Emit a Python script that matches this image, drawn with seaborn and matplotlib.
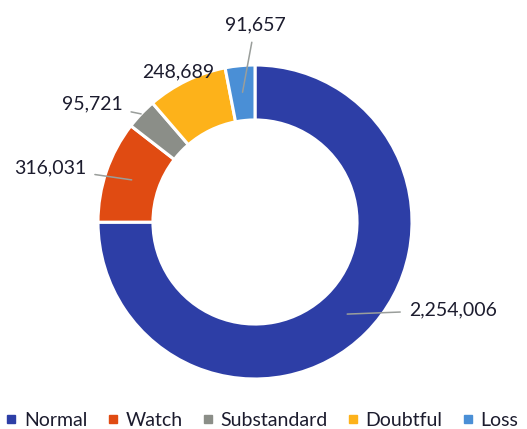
import numpy as np
import matplotlib
matplotlib.use("Agg")
import matplotlib.pyplot as plt
import seaborn as sns

# data
categories = ["Normal", "Watch", "Substandard", "Doubtful", "Loss"]
values = [2254006, 316031, 95721, 248689, 91657]
colors = ["#2d3ea6", "#e04b12", "#8b8e88", "#fdb21a", "#4a8fd6"]

# label text positions in pixels (x, y from top), and whether a leader line is drawn
label_px = [(453, 310), (50, 168), (92, 104), (178, 72), (255, 25)]
leader = [True, True, True, False, True]
leader_r = [0.83, 0.83, 1.0, 0.83, 0.83]

W, H = 527, 429
cx, cy, R = 255, 222, 157
ring = 0.35

sns.set_theme(style="white")
plt.rcParams["font.family"] = ["Lato", "DejaVu Sans"]

fig = plt.figure(figsize=(W / 100, H / 100), dpi=100)
ax = fig.add_axes([0, 0, 1, 1])

wedges, _ = ax.pie(values, colors=sns.color_palette(colors), startangle=90,
                   counterclock=False, center=(cx, H - cy), radius=R,
                   wedgeprops=dict(width=R * ring, edgecolor="white", linewidth=2.2))
# pie resets the limits, so set them afterwards
ax.set_xlim(0, W)
ax.set_ylim(0, H)
ax.set_aspect("equal")
ax.axis("off")

for w, v, (tx, ty), ln, lr in zip(wedges, values, label_px, leader, leader_r):
    mid = np.deg2rad((w.theta1 + w.theta2) / 2)
    px = cx + R * lr * np.cos(mid)
    py = (H - cy) + R * lr * np.sin(mid)
    props = dict(arrowstyle="-", color="#9a9e9b", lw=1.1, shrinkA=4, shrinkB=0) if ln else None
    ax.annotate(f"{v:,}", xy=(px, py), xytext=(tx, H - ty), ha="center", va="center",
                fontsize=14, color="#1c1c2e", arrowprops=props)

handles = [plt.Line2D([], [], marker="s", linestyle="", color=c, markersize=6) for c in colors]
fig.legend(handles, categories, loc="center", bbox_to_anchor=(262 / W, 1 - 420 / H),
           ncol=5, frameon=False, fontsize=14, handlelength=0.6, handletextpad=0.35,
           columnspacing=1.0, labelcolor="#1c1c2e")

fig.savefig("out.png", dpi=100)
